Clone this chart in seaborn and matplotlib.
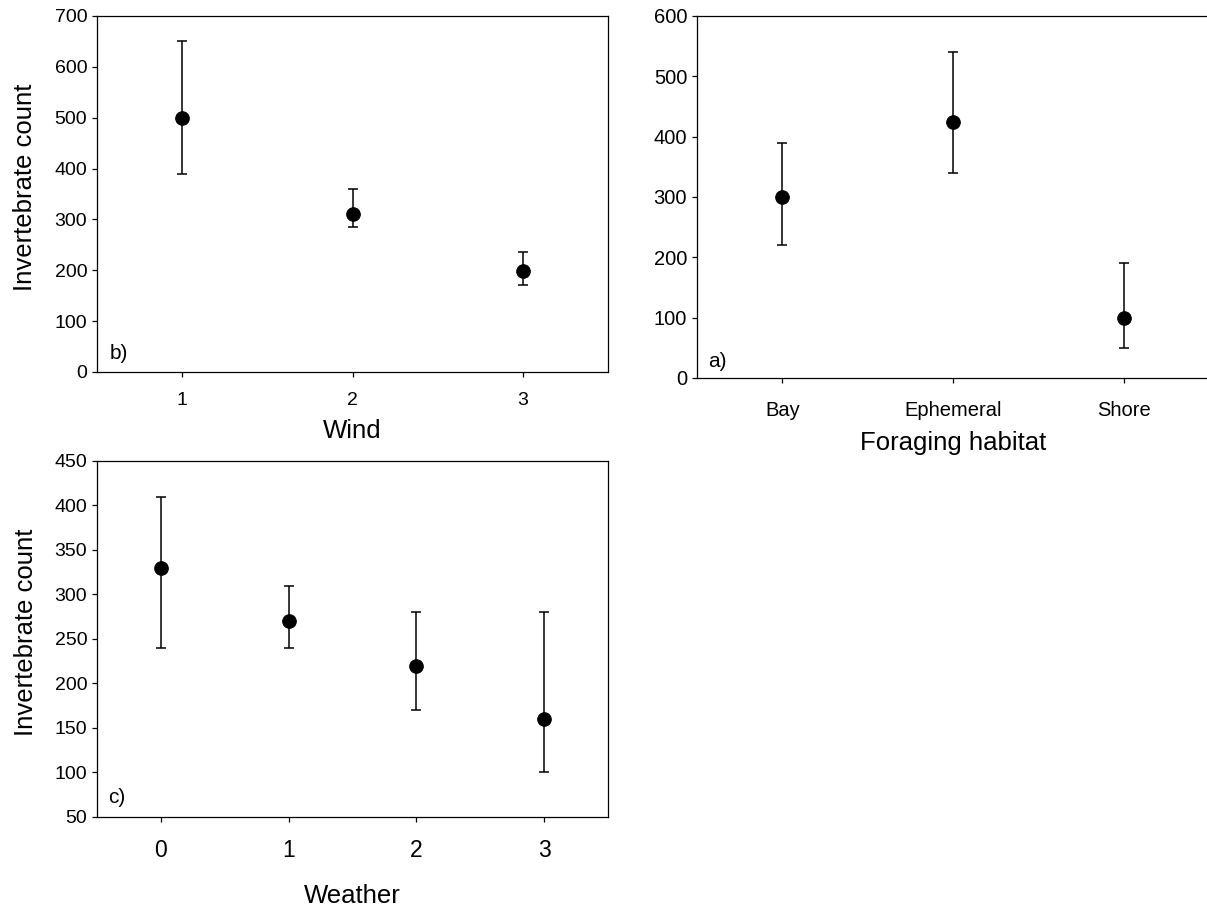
import numpy as np
import pandas as pd
import seaborn as sns
import matplotlib.pyplot as plt

# Données
wind = [1, 2, 3]
wind_mean = [500, 310, 198]
wind_low = [390, 285, 170]
wind_high = [650, 360, 235]

habitat = ["Bay", "Ephemeral", "Shore"]
habitat_mean = [300, 425, 100]
habitat_low = [220, 340, 50]
habitat_high = [390, 540, 190]

weather = [0, 1, 2, 3]
weather_mean = [330, 270, 220, 160]
weather_low = [240, 240, 170, 100]
weather_high = [410, 310, 280, 280]

sns.set_theme(style="ticks")
plt.rcParams['font.family'] = ['Liberation Sans', 'DejaVu Sans']
plt.rcParams['axes.linewidth'] = 0.9
plt.rcParams['xtick.major.width'] = 0.9
plt.rcParams['ytick.major.width'] = 0.9
plt.rcParams['xtick.major.size'] = 3.6
plt.rcParams['ytick.major.size'] = 3.6
plt.rcParams['xtick.color'] = 'black'
plt.rcParams['ytick.color'] = 'black'
plt.rcParams['axes.edgecolor'] = 'black'
plt.rcParams['text.color'] = 'black'
plt.rcParams['axes.labelcolor'] = 'black'

fig = plt.figure(figsize=(12.07, 9.11), dpi=100)
ax_b = fig.add_axes([0.0804, 0.5917, 0.4234, 0.3908])
ax_a = fig.add_axes([0.5775, 0.5851, 0.4242, 0.3974])
ax_c = fig.add_axes([0.0804, 0.1032, 0.4234, 0.3908])


def panel(ax, x, mean, low, high):
    df = pd.DataFrame({'x': x, 'y': mean})
    yerr = [np.array(mean) - np.array(low), np.array(high) - np.array(mean)]
    ax.errorbar(x, mean, yerr=yerr, fmt='none', ecolor='black',
                elinewidth=1.1, capsize=3.6, capthick=1.1, zorder=2)
    sns.scatterplot(data=df, x='x', y='y', ax=ax, color='black', s=95,
                    edgecolor='black', zorder=3)


# b) vent
panel(ax_b, wind, wind_mean, wind_low, wind_high)
ax_b.set_xlim(0.5, 3.5)
ax_b.set_ylim(0, 700)
ax_b.set_xticks(wind)
ax_b.set_yticks(range(0, 701, 100))
ax_b.tick_params(axis='both', labelsize=14)
ax_b.tick_params(axis='x', pad=11)
ax_b.set_xlabel('Wind', fontsize=18.5, va='baseline')
ax_b.xaxis.set_label_coords(0.5, -0.185)
ax_b.set_ylabel('Invertebrate count', fontsize=18.5, va='baseline')
ax_b.yaxis.set_label_coords(-0.127, 0.52)
ax_b.text(0.025, 0.037, 'b)', transform=ax_b.transAxes, fontsize=15,
          va='baseline')

# a) habitat
x_hab = [1, 2, 3]
panel(ax_a, x_hab, habitat_mean, habitat_low, habitat_high)
ax_a.set_xlim(0.5, 3.5)
ax_a.set_ylim(0, 600)
ax_a.set_xticks(x_hab)
ax_a.set_xticklabels(habitat)
ax_a.set_yticks(range(0, 601, 100))
ax_a.tick_params(axis='both', labelsize=14.5)
ax_a.tick_params(axis='x', pad=13)
ax_a.spines['right'].set_visible(False)
ax_a.set_xlabel('Foraging habitat', fontsize=18.5, va='baseline')
ax_a.xaxis.set_label_coords(0.5, -0.199)
ax_a.set_ylabel('')
ax_a.text(0.021, 0.030, 'a)', transform=ax_a.transAxes, fontsize=15,
          va='baseline')

# c) météo
panel(ax_c, weather, weather_mean, weather_low, weather_high)
ax_c.set_xlim(-0.5, 3.5)
ax_c.set_ylim(50, 450)
ax_c.set_xticks(weather)
ax_c.set_yticks(range(50, 451, 50))
ax_c.tick_params(axis='y', labelsize=14)
ax_c.tick_params(axis='x', labelsize=16.5, pad=12.5)
ax_c.set_xlabel('Weather', fontsize=18.5, va='baseline')
ax_c.xaxis.set_label_coords(0.5, -0.2416)
ax_c.set_ylabel('Invertebrate count', fontsize=18.5, va='baseline')
ax_c.yaxis.set_label_coords(-0.125, 0.52)
ax_c.text(0.022, 0.039, 'c)', transform=ax_c.transAxes, fontsize=15,
          va='baseline')

fig.savefig('out.png', dpi=100)
